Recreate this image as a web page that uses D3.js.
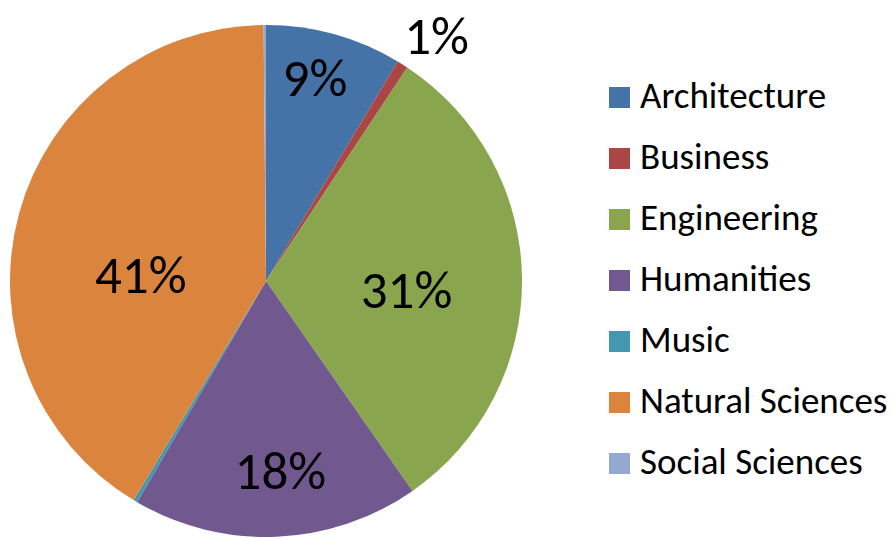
<!DOCTYPE html>
<html><head><meta charset="utf-8">
<script src="https://cdn.jsdelivr.net/npm/d3@7/dist/d3.min.js"></script>
<style>
html,body{margin:0;padding:0;background:#fff;}
svg{display:block;font-family:Carlito, Calibri, Lato, sans-serif;}
</style></head>
<body><svg id="c" width="893" height="538"></svg>
<script>
const categories = ["Architecture","Business","Engineering","Humanities","Music","Natural Sciences","Social Sciences"];
const values = [8.6, 0.7, 31.0, 18.1, 0.25, 41.2, 0.15];
const colors = ["#4572A7","#AA4643","#89A54E","#71588F","#4198AF","#DB843D","#93A9CF"];
// label placement (fraction of radius, angle shift in degrees from slice middle)
const labelRadius = [0.82, 1.17, 0.55, 0.74, 0, 0.49, 0];
const labelShift  = [-2, 2.5, 4, -2, 0, -12, 0];

const svg = d3.select("#c");
const cx = 266, cy = 281, R = 256;
const total = d3.sum(values);
const pie = d3.pie().sort(null).value(d => d.v);
const data = categories.map((c,i)=>({c, v:values[i], col:colors[i], i}));
const arcs = pie(data);
const arc = d3.arc().innerRadius(0).outerRadius(R);
const g = svg.append("g").attr("transform",`translate(${cx},${cy})`);
g.selectAll("path").data(arcs).join("path")
  .attr("d",arc).attr("fill",d=>d.data.col);

// labels
const fs = 53;
arcs.forEach(a=>{
  const pct = Math.round(a.data.v/total*100);
  if (pct < 1) return;
  const mid = (a.startAngle+a.endAngle)/2 + labelShift[a.data.i]*Math.PI/180;
  const rf = labelRadius[a.data.i];
  const x = Math.sin(mid)*R*rf, y = -Math.cos(mid)*R*rf;
  g.append("text").attr("x",x).attr("y",y + 0.36*fs)
   .attr("text-anchor","middle")
   .attr("font-size",fs).attr("fill","#000").text(pct+"%");
});

// legend
const lg = svg.append("g");
categories.forEach((c,i)=>{
  const y = 97.5 + i*61;
  lg.append("rect").attr("x",609).attr("y",y-10.5).attr("width",21).attr("height",21).attr("fill",colors[i]);
  lg.append("text").attr("x",640).attr("y",y+10.5).attr("font-size",37).attr("fill","#000").text(c);
});
</script></body></html>
